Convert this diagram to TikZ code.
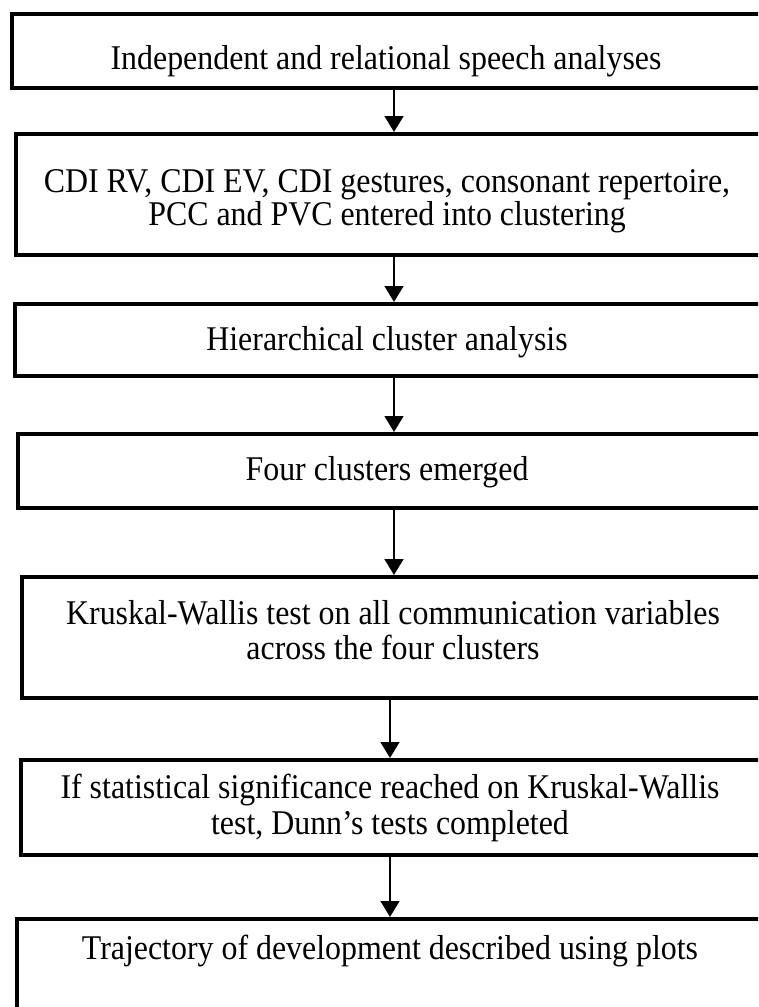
\documentclass[tikz,border=0pt]{standalone}
\usepackage{fontspec}
\setmainfont{Liberation Serif}[FakeStretch=0.92]
\usetikzlibrary{arrows.meta}
\tikzset{
  stepbox/.style={draw=black, line width=2.8pt, rectangle, anchor=north west, inner sep=0pt, fill=white},
  txt/.style={anchor=base, inner sep=0pt, font=\fontsize{26pt}{30pt}\selectfont},
  flow/.style={line width=2pt, -{Triangle[length=12pt, width=14pt]}},
}
\begin{document}
\begin{tikzpicture}[x=0.75pt, y=-0.75pt]
  \useasboundingbox (0,0) rectangle (758,1007);
  \clip (0,0) rectangle (758,1007);
  \fill[white] (0,0) rectangle (758,1007);

  % boxes (right edges run past the page)
  \node[stepbox, minimum width=577.5pt, minimum height=55.5pt] (b1) at (10,12) {};
  \node[stepbox, minimum width=574.5pt, minimum height=90.75pt] (b2) at (14,132) {};
  \node[stepbox, minimum width=575.25pt, minimum height=54pt] (b3) at (13,302) {};
  \node[stepbox, minimum width=573pt, minimum height=55.5pt] (b4) at (16,432) {};
  \node[stepbox, minimum width=570pt, minimum height=90.75pt] (b5) at (20,575) {};
  \node[stepbox, minimum width=570.75pt, minimum height=71.25pt] (b6) at (19,758) {};
  \node[stepbox, minimum width=573.75pt, minimum height=90pt] (b7) at (15,917) {};

  % labels
  \node[txt] (t1) at (386,69) {Independent and relational speech analyses};
  \node[txt] (t2a) at (387,192) {CDI RV, CDI EV, CDI gestures, consonant repertoire,};
  \node[txt] (t2b) at (387,225) {PCC and PVC entered into clustering};
  \node[txt] (t3) at (387,350) {Hierarchical cluster analysis};
  \node[txt] (t4) at (387,480) {Four clusters emerged};
  \node[txt] (t5a) at (393,624) {Kruskal-Wallis test on all communication variables};
  \node[txt] (t5b) at (393,659) {across the four clusters};
  \node[txt] (t6a) at (390,798) {If statistical significance reached on Kruskal-Wallis};
  \node[txt] (t6b) at (390,834) {test, Dunn’s tests completed};
  \node[txt] (t7) at (390,959) {Trajectory of development described using plots};

  % connectors
  \draw[flow] (b1.south -| 394,0) -- (b2.north -| 394,0);
  \draw[flow] (b2.south -| 394,0) -- (b3.north -| 394,0);
  \draw[flow] (b3.south -| 394,0) -- (b4.north -| 394,0);
  \draw[flow] (b4.south -| 394,0) -- (b5.north -| 394,0);
  \draw[flow] (b5.south -| 390,0) -- (b6.north -| 390,0);
  \draw[flow] (b6.south -| 390,0) -- (b7.north -| 390,0);
\end{tikzpicture}
\end{document}
